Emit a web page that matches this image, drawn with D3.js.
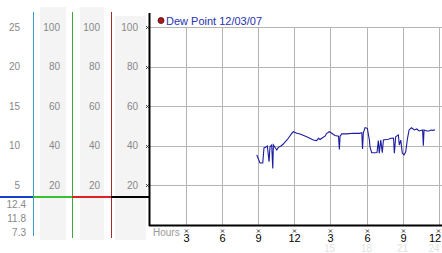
<!DOCTYPE html>
<html><head><meta charset="utf-8">
<script src="https://cdn.jsdelivr.net/npm/d3@7"></script>
<style>html,body{margin:0;padding:0;background:#fff;}svg{display:block;}</style>
</head><body>
<script>
// ---- data ----
const title = "Dew Point 12/03/07";
const hours = [8.89,8.99,9.16,9.39,9.49,9.66,9.77,9.91,9.99,10.13,10.22,10.27,10.55,10.68,10.90,11.09,11.38,11.51,11.79,11.92,12.21,12.48,13.03,13.58,13.86,14.01,14.14,14.28,14.41,14.55,14.69,14.91,15.11,15.38,15.67,15.74,15.80,15.94,16.35,16.90,17.40,17.60,17.66,17.73,17.87,18.06,18.23,18.28,18.42,18.70,18.86,18.97,19.05,19.17,19.30,19.39,19.61,19.80,20.02,20.23,20.30,20.41,20.63,20.71,20.83,20.96,21.10,21.24,21.39,21.52,21.72,21.96,22.16,22.35,22.64,22.70,22.76,22.99,23.18,23.34,23.53,23.67];
const dewPoint = [35.4,33.8,31.3,31.3,38.9,39.4,39.9,32.0,39.5,40.4,28.6,40.4,37.9,39.2,39.9,40.9,42.9,43.8,46.3,47.1,46.3,46.0,44.6,42.9,42.6,43.8,43.2,43.8,44.3,44.9,46.3,47.1,46.3,45.2,44.9,38.2,44.9,46.0,46.0,46.3,46.3,46.6,38.4,46.6,49.2,48.8,42.9,39.4,36.5,36.5,36.6,42.6,36.2,42.9,36.5,42.9,43.2,43.3,43.8,43.9,36.2,44.6,45.5,40.4,42.9,36.2,35.4,37.0,43.8,48.0,49.1,48.0,48.5,47.5,48.0,40.1,48.0,47.5,47.5,48.0,47.8,48.1];
const yTicksMain = [20,40,60,80,100];
const col1Ticks = [5,10,15,20,25];
const col1Extra = ["12.4","11.8","7.3"];
const xTicks = [3,6,9,12,15,18,21,24];
const xTop = ["3","6","9","12","3","6","9","12"];
const xBottom = ["","","","","15","18","21","24"];

// ---- layout ----
const W = 442, H = 253;
const svg = d3.select("body").append("svg").attr("width", W).attr("height", H)
  .style("font-family", "'Liberation Sans', Arial, sans-serif");

const x = d3.scaleLinear().domain([0, 24]).range([149.5, 439]);
const y = d3.scaleLinear().domain([0, 100]).range([225, 27]);
const y1 = d3.scaleLinear().domain([0, 25]).range([225, 27]);
const baseY = 197;

// gray bands
const bands = [[40, 66, 7], [80, 104, 7], [115, 146, 16]];
bands.forEach(b => svg.append("rect").attr("x", b[0]).attr("y", b[2]).attr("width", b[1] - b[0]).attr("height", 240 - b[2]).attr("fill", "#f4f4f4"));

// left column labels
const lab = (g, vals, sc, xr, fmt) => g.selectAll(null).data(vals).enter().append("text")
  .attr("x", xr).attr("y", d => sc(d) + 3.5).attr("text-anchor", "end")
  .attr("font-size", 10).attr("fill", "#888").text(fmt || (d => d));
const gL = svg.append("g");
lab(gL, col1Ticks, y1, 20);
lab(gL, yTicksMain, y, 60);
lab(gL, yTicksMain, y, 100);
lab(gL, yTicksMain, y, 138);
gL.selectAll(null).data(col1Extra).enter().append("text")
  .attr("x", 26).attr("y", (d, i) => 208 + i * 14).attr("text-anchor", "end")
  .attr("font-size", 10).attr("fill", "#888").text(d => d);

// vertical column lines
[[33.5, "#3a9cc8", 236], [72.5, "#3aa83a", 238], [111.5, "#a82a2a", 238]].forEach(c =>
  svg.append("line").attr("x1", c[0]).attr("x2", c[0]).attr("y1", 12).attr("y2", c[2]).attr("stroke", c[1]).attr("stroke-width", 1));

// baseline segments
[[0, 33, "#1a3fd0"], [33, 72, "#33c433"], [72, 111, "#dd2222"], [111, 150, "#000"]].forEach(s =>
  svg.append("line").attr("x1", s[0]).attr("x2", s[1]).attr("y1", baseY).attr("y2", baseY).attr("stroke", s[2]).attr("stroke-width", 2));

// grid
const grid = svg.append("g").attr("stroke", "#b4b4b4").attr("stroke-width", 1);
grid.selectAll(null).data(yTicksMain).enter().append("line")
  .attr("x1", 150).attr("x2", W).attr("y1", d => Math.round(y(d)) + 0.5).attr("y2", d => Math.round(y(d)) + 0.5);
grid.selectAll(null).data(xTicks).enter().append("line")
  .attr("x1", d => Math.round(x(d)) + 0.5).attr("x2", d => Math.round(x(d)) + 0.5).attr("y1", 27).attr("y2", 225);

// axes
svg.append("line").attr("x1", 149.5).attr("x2", 149.5).attr("y1", 13).attr("y2", 226).attr("stroke", "#000").attr("stroke-width", 2);
svg.append("line").attr("x1", 149).attr("x2", W).attr("y1", 225.5).attr("y2", 225.5).attr("stroke", "#000").attr("stroke-width", 2);

// y tick marks (tiny crosses)
const cross = (g, cx, cy) => g.append("path")
  .attr("d", `M${cx-1.5},${cy-1.5}L${cx+1.5},${cy+1.5}M${cx+1.5},${cy-1.5}L${cx-1.5},${cy+1.5}`)
  .attr("stroke", "#333").attr("stroke-width", 0.9).attr("fill", "none");
const gT = svg.append("g");
yTicksMain.forEach(d => cross(gT, 147.5, Math.round(y(d)) + 0.5));
xTicks.forEach(d => cross(gT, Math.min(Math.round(x(d)) + 0.5, 438.5), 231));

// x labels (keep the last ones inside the frame)
const lx = d => Math.min(Math.round(x(d)) + 0.5, 435);
svg.selectAll(null).data(xTicks).enter().append("text")
  .attr("x", lx).attr("y", 242).attr("text-anchor", "middle")
  .attr("font-size", 11).attr("fill", "#000").text((d, i) => xTop[i]);
svg.selectAll(null).data(xTicks).enter().append("text")
  .attr("x", d => lx(d) - 1).attr("y", 252).attr("text-anchor", "middle")
  .attr("font-size", 10).attr("fill", "#e2e2e2").text((d, i) => xBottom[i]);
svg.append("text").attr("x", 153).attr("y", 236).attr("font-size", 10).attr("fill", "#999").text("Hours");

// legend
svg.append("circle").attr("cx", 161).attr("cy", 20.5).attr("r", 3).attr("fill", "#b01818").attr("stroke", "#401010").attr("stroke-width", 0.8);
svg.append("text").attr("x", 166).attr("y", 24.5).attr("font-size", 11).attr("fill", "#1f33b0").text(title);

// data line
const pts = hours.map((h, i) => [h, dewPoint[i]]);
svg.append("path").datum(pts)
  .attr("d", d3.line().x(d => x(d[0])).y(d => y(d[1])))
  .attr("fill", "none").attr("stroke", "#1c1ca0").attr("stroke-width", 1.1);
</script>
</body></html>
